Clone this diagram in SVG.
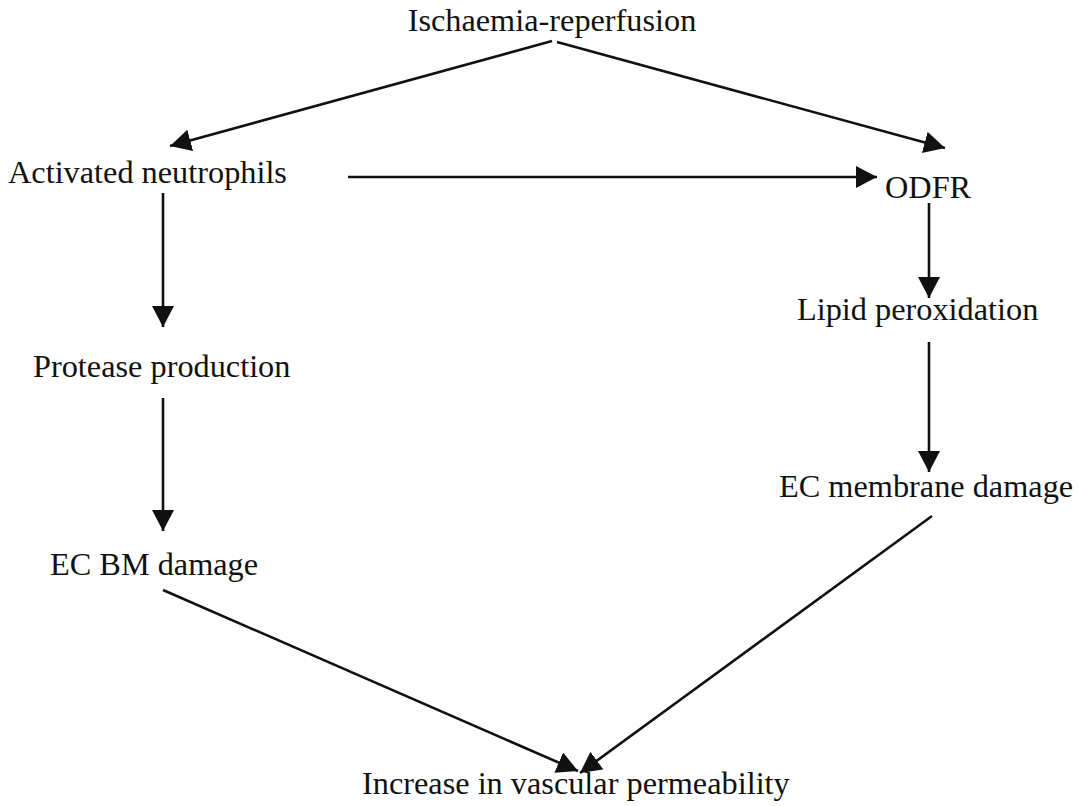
<svg xmlns="http://www.w3.org/2000/svg" width="1079" height="806" viewBox="0 0 1079 806">
<style>
text{font-family:"Liberation Serif","Times New Roman",serif;font-size:32.3px;fill:#111;}
.c{stroke:#111;stroke-width:2.6;fill:none;marker-end:url(#ah);}
</style>
<defs>
<marker id="ah" markerUnits="userSpaceOnUse" markerWidth="26" markerHeight="26" refX="21" refY="11" orient="auto">
<path d="M0,0 L21,11 L0,22 z" fill="#111"/>
</marker>
</defs>
<rect width="1079" height="806" fill="#fff"/>
<g id="connectors">
<line class="c" x1="552" y1="41" x2="170" y2="146"/>
<line class="c" x1="557" y1="42" x2="945" y2="148"/>
<line class="c" x1="348" y1="177" x2="877" y2="177"/>
<line class="c" x1="163" y1="193" x2="163" y2="327"/>
<line class="c" x1="163" y1="398" x2="163" y2="531"/>
<line class="c" x1="929" y1="203" x2="929" y2="298"/>
<line class="c" x1="929" y1="342" x2="929" y2="472"/>
<line class="c" x1="163" y1="590" x2="578" y2="771"/>
<line class="c" x1="932" y1="516" x2="580" y2="773"/>
</g>
<g id="n-ir"><text x="552" y="31" text-anchor="middle">Ischaemia-reperfusion</text></g>
<g id="n-an"><text x="8" y="183">Activated neutrophils</text></g>
<g id="n-odfr"><text x="885" y="198">ODFR</text></g>
<g id="n-lp"><text x="797" y="320">Lipid peroxidation</text></g>
<g id="n-pp"><text x="33" y="377">Protease production</text></g>
<g id="n-ecm"><text x="779" y="497">EC membrane damage</text></g>
<g id="n-ecbm"><text x="50" y="575">EC BM damage</text></g>
<g id="n-ivp"><text x="362" y="794">Increase in vascular permeability</text></g>
</svg>
